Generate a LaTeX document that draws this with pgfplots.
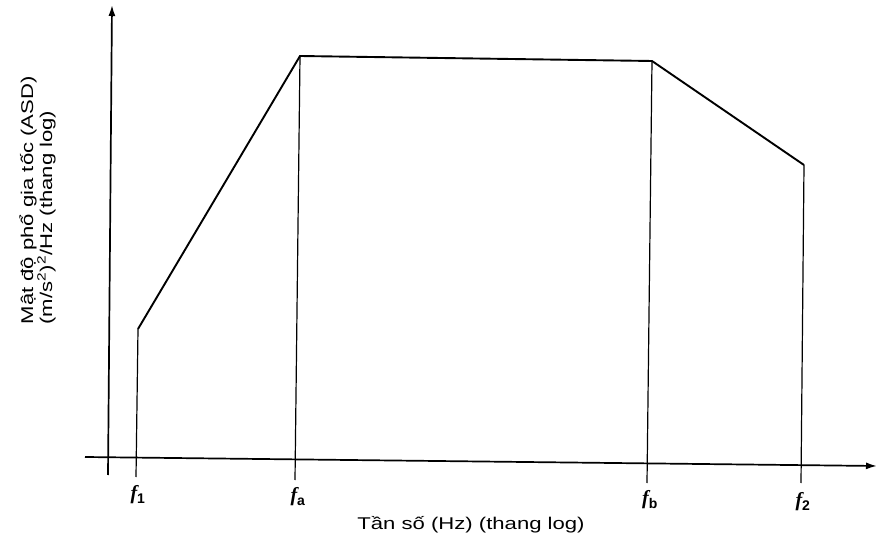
\documentclass[border=0pt]{standalone}
\usepackage{pgfplots}
\pgfplotsset{compat=1.18}
\usepackage{fontspec}
\setmainfont{Liberation Sans}
\newfontfamily\serifit{Liberation Serif}
\usetikzlibrary{arrows.meta}
\begin{document}
\begin{tikzpicture}
\begin{axis}[
  hide axis, scale only axis,
  width=878pt, height=549pt,
  xmin=0, xmax=878, ymin=0, ymax=549,
  clip=false,
]
% invisible frame so that the picture keeps the full extent
\addplot[draw=none, forget plot] coordinates {(0,0) (878,549)};
% axes
\addplot[black, line width=1.7pt, -{Latex[length=11pt,width=7pt]}] coordinates {(108,74) (112,544)};
\addplot[black, line width=1.7pt, -{Latex[length=11pt,width=7pt]}] coordinates {(85,92) (877,83)};
% vertical guide lines
\addplot[black, line width=1.2pt] coordinates {(138,220) (136,72)};
\addplot[black, line width=1.2pt] coordinates {(300,493) (295,69)};
\addplot[black, line width=1.2pt] coordinates {(652,488) (647,66)};
\addplot[black, line width=1.2pt] coordinates {(804,384) (801,66)};
% ASD profile
\addplot[black, line width=1.9pt, line join=miter] coordinates {(138,220) (300,493) (652,488) (804,384)};
% frequency labels
\node[font=\fontsize{20}{24}\selectfont\serifit\bfseries\itshape] at (axis cs:138,54) {f\textsubscript{\normalfont\bfseries 1}};
\node[font=\fontsize{20}{24}\selectfont\serifit\bfseries\itshape] at (axis cs:298,52) {f\textsubscript{\normalfont\bfseries a}};
\node[font=\fontsize{20}{24}\selectfont\serifit\bfseries\itshape] at (axis cs:650,49) {f\textsubscript{\normalfont\bfseries b}};
\node[font=\fontsize{20}{24}\selectfont\serifit\bfseries\itshape] at (axis cs:803,47) {f\textsubscript{\normalfont\bfseries 2}};
% axis titles
\node[font=\fontsize{17}{20}\selectfont, xscale=1.3] at (axis cs:471,24) {Tần số (Hz) (thang log)};
\node[font=\fontsize{17}{20}\selectfont, rotate=90, xscale=1.3, anchor=base west] at (axis cs:33,220) {Mật độ phổ gia tốc (ASD)};
\node[font=\fontsize{17}{20}\selectfont, rotate=90, xscale=1.3, anchor=base west] at (axis cs:52,220) {(m/s\textsuperscript{2})\textsuperscript{2}/Hz (thang log)};
\end{axis}
\end{tikzpicture}
\end{document}
